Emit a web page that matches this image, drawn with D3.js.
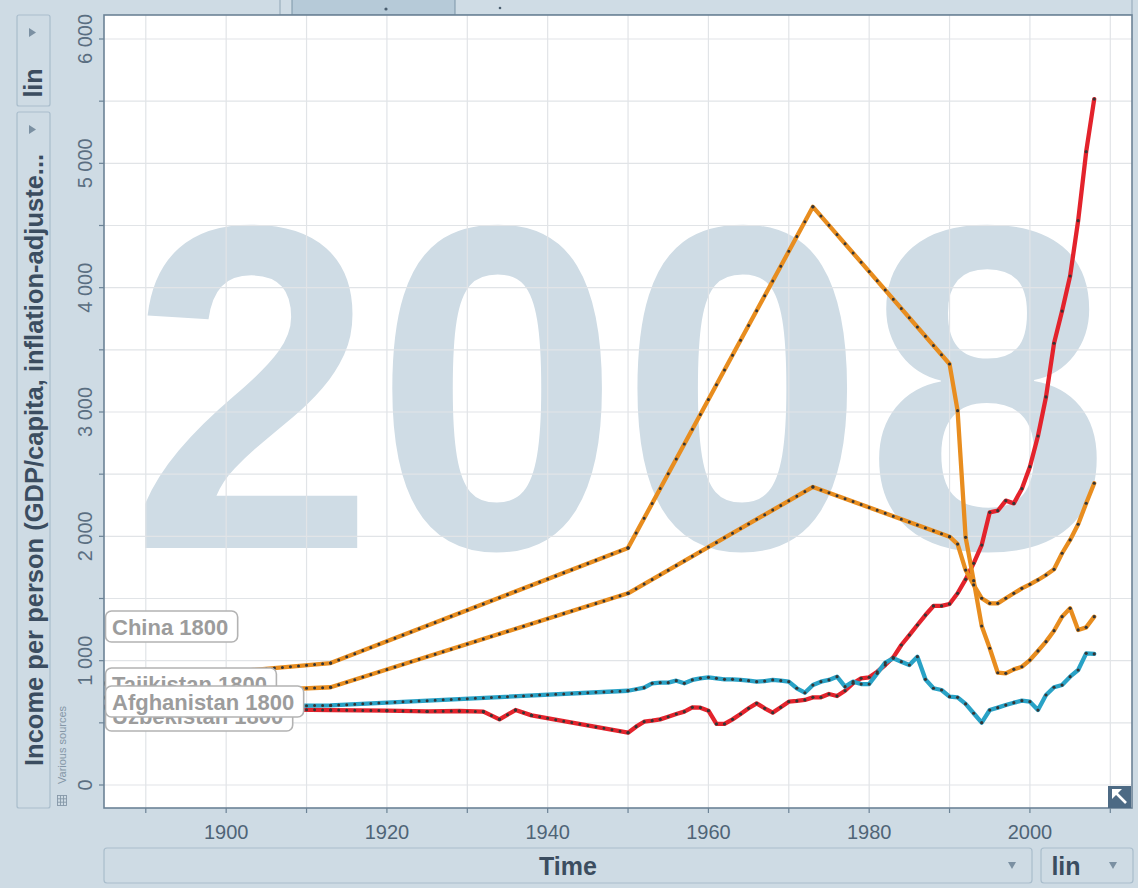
<!DOCTYPE html>
<html><head><meta charset="utf-8">
<script src="https://cdn.jsdelivr.net/npm/d3@7"></script>
<style>
body{margin:0;background:#cedbe4;}
svg{display:block}
</style>
</head><body>
<svg id="c" width="1138" height="888"></svg>
<script>
// ---------------- data ----------------
const yearLabel = "2008";
const xTickYears = [1890,1900,1910,1920,1930,1940,1950,1960,1970,1980,1990,2000,2010];
const xLabelYears = [1900,1920,1940,1960,1980,2000];
const yGridValues = [0,500,1000,1500,2000,2500,3000,3500,4000,4500,5000,5500,6000];
const yLabelValues = [0,1000,2000,3000,4000,5000,6000];

const chinaData = [[1870,640],[1913,603],[1920,598],[1925,592],[1929,595],[1932,590],[1934,528],[1936,603],[1938,560],
 [1950,421],[1951,469],[1952,509],[1953,517],[1954,528],[1955,549],[1956,571],[1957,590],[1958,625],[1959,622],
 [1960,598],[1961,491],[1962,491],[1963,528],[1964,571],[1965,617],[1966,657],[1967,617],[1968,582],[1969,625],
 [1970,670],[1971,676],[1972,684],[1973,705],[1974,705],[1975,732],[1976,716],[1977,758],[1978,818],[1979,858],
 [1980,866],[1981,911],[1982,965],[1983,1027],[1984,1126],[1985,1206],[1986,1287],[1987,1367],[1988,1440],[1989,1440],
 [1990,1456],[1991,1542],[1992,1654],[1993,1783],[1994,1930],[1995,2193],[1996,2206],[1997,2287],[1998,2265],[1999,2383],
 [2000,2560],[2001,2807],[2002,3121],[2003,3553],[2004,3812],[2005,4094],[2006,4539],[2007,5094],[2008,5517]];

const afghanistanData = [[1870,610],[1913,640],[1950,758],[1951,770],[1952,783],[1953,818],[1954,823],[1955,823],
 [1956,839],[1957,818],[1958,845],[1959,858],[1960,866],[1961,858],[1962,850],[1963,850],[1964,845],[1965,839],
 [1966,831],[1967,836],[1968,845],[1969,839],[1970,831],[1971,778],[1972,742],[1973,804],[1974,831],[1975,845],
 [1976,871],[1977,791],[1978,831],[1979,812],[1980,812],[1981,898],[1982,984],[1983,1019],[1984,992],[1985,965],
 [1986,1032],[1987,850],[1988,778],[1989,764],[1990,710],[1991,705],[1992,652],[1993,577],[1994,501],[1995,603],
 [1996,622],[1997,643],[1998,662],[1999,678],[2000,670],[2001,603],[2002,724],[2003,786],[2004,804],[2005,871],
 [2006,925],[2007,1059],[2008,1054]];

const tajikistanData = [[1870,730],[1913,981],[1950,1907],[1973,4650],[1990,3386],[1991,3011],[1992,1992],[1993,1643],
 [1994,1279],[1995,1100],[1996,903],[1997,898],[1998,930],[1999,951],[2000,1005],[2001,1078],[2002,1153],[2003,1241],
 [2004,1354],[2005,1421],[2006,1247],[2007,1268],[2008,1354]];

const uzbekistanData = [[1870,660],[1913,786],[1950,1542],[1973,2397],[1990,1997],[1991,1938],[1992,1729],[1993,1609],
 [1994,1502],[1995,1461],[1996,1461],[1997,1502],[1998,1542],[1999,1582],[2000,1614],[2001,1649],[2002,1689],
 [2003,1735],[2004,1864],[2005,1971],[2006,2097],[2007,2266],[2008,2427]];

const seriesNames = ["China","Tajikistan","Uzbekistan","Afghanistan"];
const seriesData = [chinaData, tajikistanData, uzbekistanData, afghanistanData];
const seriesColors = ["#e3232c","#e88d1f","#e88d1f","#29a2c6"];
const labelText = ["China 1800","Tajikistan 1800","Uzbekistan 1800","Afghanistan 1800"];

// ---------------- layout ----------------
const FONT = "'Liberation Sans', Arial, sans-serif";
const plot = {x0:104, x1:1132, y0:15, y1:808};
const svg = d3.select("#c");
const x = d3.scaleLinear().domain([1884.8, 2012.7]).range([plot.x0, plot.x1]);
const y = d3.scaleLinear().domain([-185, 6193]).range([plot.y1, plot.y0]);
const bg = "#cedbe4";

svg.append("rect").attr("width",1138).attr("height",888).attr("fill",bg);

// top widget (partially visible)
const tw = svg.append("g");
tw.append("rect").attr("x",280).attr("y",-6).attr("width",852).attr("height",21)
  .attr("fill","#cfdce5").attr("stroke","#8fa5b6").attr("stroke-width",1);
tw.append("rect").attr("x",292).attr("y",-6).attr("width",163).attr("height",21)
  .attr("fill","#b6cad8").attr("stroke","#7d95a8").attr("stroke-width",1);
tw.append("circle").attr("cx",386).attr("cy",9).attr("r",1.6).attr("fill","#4a5e70");
tw.append("circle").attr("cx",500).attr("cy",8).attr("r",1.3).attr("fill","#4a5e70");

svg.append("defs").append("clipPath").attr("id","clip")
  .append("rect").attr("x",plot.x0).attr("y",plot.y0)
  .attr("width",plot.x1-plot.x0).attr("height",plot.y1-plot.y0);

svg.append("rect").attr("x",plot.x0).attr("y",plot.y0)
  .attr("width",plot.x1-plot.x0).attr("height",plot.y1-plot.y0).attr("fill","#fff");

const inner = svg.append("g").attr("clip-path","url(#clip)");

// big year
const cx = (plot.x0+plot.x1)/2 + 2;
inner.append("text").attr("transform",`translate(${cx},548) scale(0.952,1)`)
  .attr("text-anchor","middle").attr("font-family",FONT).attr("font-weight","bold")
  .attr("font-size",463).attr("fill","#cfdce5").text(yearLabel);

// grid
inner.selectAll(".gx").data(xTickYears).join("line")
  .attr("x1",d=>x(d)).attr("x2",d=>x(d)).attr("y1",plot.y0).attr("y2",plot.y1)
  .attr("stroke","#e1e4e7").attr("stroke-width",1.2);
inner.selectAll(".gy").data(yGridValues).join("line")
  .attr("x1",plot.x0).attr("x2",plot.x1).attr("y1",d=>y(d)).attr("y2",d=>y(d))
  .attr("stroke","#e1e4e7").attr("stroke-width",1.2);

// series
const line = d3.line().x(d=>x(d[0])).y(d=>y(d[1])).curve(d3.curveLinear);
seriesData.forEach((data,i)=>{
  inner.append("path").datum(data).attr("d",line).attr("fill","none")
    .attr("stroke",seriesColors[i]).attr("stroke-width",4.3)
    .attr("stroke-linejoin","round").attr("stroke-linecap","round");
});
// yearly dots: vertices + evenly spaced dots along multi-year segments
seriesData.forEach((data,i)=>{
  const g = inner.append("g");
  for(let k=1;k<data.length;k++){
    const a=data[k-1], b=data[k];
    const gap=b[0]-a[0];
    if(gap>1){
      const x1=x(a[0]),y1=y(a[1]),x2=x(b[0]),y2=y(b[1]);
      const L=Math.hypot(x2-x1,y2-y1);
      g.append("line").attr("x1",x1).attr("y1",y1).attr("x2",x2).attr("y2",y2)
        .attr("stroke","#353535").attr("stroke-width",3).attr("stroke-linecap","round")
        .attr("stroke-dasharray",`0,${L/gap}`);
    }
  }
  g.selectAll("circle").data(data).join("circle")
    .attr("cx",d=>x(d[0])).attr("cy",d=>y(d[1])).attr("r",1.6).attr("fill","#353535");
});

// trail labels (Afghanistan drawn last, on top)
const labelTops = [611,668,700,686];
[0,1,2,3].forEach(i=>{
  const g = svg.append("g");
  const r = g.append("rect").attr("x",105.5).attr("y",labelTops[i]).attr("height",31).attr("rx",6)
    .attr("fill","#fff").attr("stroke","#b3b3b3").attr("stroke-width",1.6);
  const t = g.append("text").attr("x",112).attr("y",labelTops[i]+23.5)
    .attr("font-family",FONT).attr("font-weight","bold").attr("font-size",22)
    .attr("fill","#9c9c9c").text(labelText[i]);
  const w = t.node().getComputedTextLength();
  r.attr("width", w+16);
});

// frame
svg.append("rect").attr("x",plot.x0).attr("y",plot.y0)
  .attr("width",plot.x1-plot.x0).attr("height",plot.y1-plot.y0)
  .attr("fill","none").attr("stroke","#6c8396").attr("stroke-width",1.6);

// x axis ticks & labels
svg.selectAll(".xt").data(xTickYears).join("line")
  .attr("x1",d=>x(d)).attr("x2",d=>x(d)).attr("y1",plot.y1).attr("y2",plot.y1+5)
  .attr("stroke","#6c8396").attr("stroke-width",1.2);
svg.selectAll(".xl").data(xLabelYears).join("text")
  .attr("x",d=>x(d)).attr("y",839).attr("text-anchor","middle")
  .attr("font-family",FONT).attr("font-size",20).attr("fill","#4f6477").text(d=>d);

// y axis ticks & labels
const fmt = d3.formatLocale({thousands:" ",grouping:[3],decimal:".",currency:["",""]}).format(",");
svg.selectAll(".yt").data(yGridValues).join("line")
  .attr("x1",plot.x0-5).attr("x2",plot.x0).attr("y1",d=>y(d)).attr("y2",d=>y(d))
  .attr("stroke","#6c8396").attr("stroke-width",1.2);
svg.selectAll(".yl").data(yLabelValues).join("text")
  .attr("transform",d=>`translate(92,${y(d)}) rotate(-90)`).attr("text-anchor","middle")
  .attr("font-family",FONT).attr("font-size",20).attr("fill","#5a6e81").text(d=>fmt(d));

// corner button
svg.append("rect").attr("x",1108).attr("y",786).attr("width",23).attr("height",22).attr("fill","#4d6a84");
svg.append("path").attr("d","M1126,803 L1115,792").attr("stroke","#fff").attr("stroke-width",2.6);
svg.append("path").attr("d","M1112,789 L1112,799 L1122,789 Z").attr("fill","#fff");

// left controls
const boxStroke = "#a9bdcc", titleCol = "#3b4d60", arrowCol = "#7b90a2";
svg.append("rect").attr("x",17).attr("y",15).attr("width",33).attr("height",91).attr("rx",2)
  .attr("fill",bg).attr("stroke",boxStroke).attr("stroke-width",1.2);
svg.append("path").attr("d","M29,28 L29,37 L36,32.5 Z").attr("fill",arrowCol);
svg.append("text").attr("transform","translate(42,83) rotate(-90)").attr("text-anchor","middle")
  .attr("font-family",FONT).attr("font-weight","bold").attr("font-size",25).attr("fill",titleCol).text("lin");

svg.append("rect").attr("x",17).attr("y",112).attr("width",33).attr("height",696).attr("rx",2)
  .attr("fill",bg).attr("stroke",boxStroke).attr("stroke-width",1.2);
svg.append("path").attr("d","M29,125 L29,134 L36,129.5 Z").attr("fill",arrowCol);
svg.append("text").attr("transform","translate(42.5,766) rotate(-90)").attr("text-anchor","start")
  .attr("font-family",FONT).attr("font-weight","bold").attr("font-size",25.5).attr("fill",titleCol)
  .text("Income per person (GDP/capita, inflation-adjuste...");

svg.append("text").attr("transform","translate(66,784) rotate(-90)").attr("text-anchor","start")
  .attr("font-family",FONT).attr("font-size",11).attr("fill","#8597a7").text("Various sources");
const ic = svg.append("g").attr("stroke","#8597a7").attr("stroke-width",0.9).attr("fill","none");
ic.append("rect").attr("x",57.5).attr("y",795.5).attr("width",9).attr("height",10);
[798.8,802.2].forEach(v=>ic.append("line").attr("x1",57.5).attr("x2",66.5).attr("y1",v).attr("y2",v));
[60.5,63.5].forEach(v=>ic.append("line").attr("x1",v).attr("x2",v).attr("y1",795.5).attr("y2",805.5));

// bottom controls
svg.append("rect").attr("x",104).attr("y",848).attr("width",928).attr("height",35).attr("rx",3)
  .attr("fill",bg).attr("stroke",boxStroke).attr("stroke-width",1.2);
svg.append("text").attr("x",568).attr("y",875).attr("text-anchor","middle")
  .attr("font-family",FONT).attr("font-weight","bold").attr("font-size",25).attr("fill",titleCol).text("Time");
svg.append("path").attr("d","M1008,862 L1016,862 L1012,869 Z").attr("fill",arrowCol);
svg.append("rect").attr("x",1041).attr("y",848).attr("width",92).attr("height",35).attr("rx",3)
  .attr("fill",bg).attr("stroke",boxStroke).attr("stroke-width",1.2);
svg.append("text").attr("x",1066).attr("y",875).attr("text-anchor","middle")
  .attr("font-family",FONT).attr("font-weight","bold").attr("font-size",25).attr("fill",titleCol).text("lin");
svg.append("path").attr("d","M1109,862 L1117,862 L1113,869 Z").attr("fill",arrowCol);
</script>
</body></html>
